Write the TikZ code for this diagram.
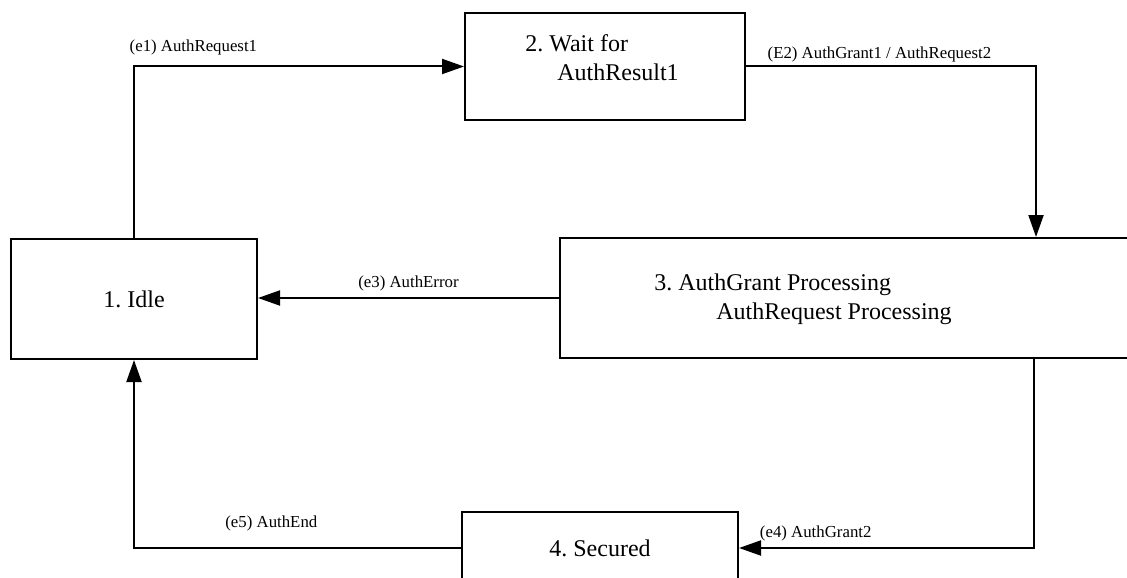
\documentclass[tikz,border=0pt]{standalone}
\usepackage{fontspec}
\setmainfont{Liberation Serif}
\usepackage{tikz}
\usetikzlibrary{calc,arrows.meta,positioning}
\frenchspacing
\tikzset{
	state/.style={
		draw, rectangle, line width=1pt,
		inner sep=0pt, text=black,
		font=\fontsize{12}{14.5}\selectfont
	},
	statetext/.style={
		align=left, inner sep=0pt,
		font=\fontsize{12}{14.5}\selectfont
	},
	evlabel/.style={font=\fontsize{8.4}{10}\selectfont, inner sep=0pt},
	trans/.style={-{Triangle[length=11pt,width=7.5pt]}, line width=1pt}
}
\begin{document}
\begin{tikzpicture}[x=0.5pt,y=-0.5pt]
				\path[use as bounding box, clip] (0,0) rectangle (1127,577);
				\node[state, minimum width=123pt, minimum height=60pt] (idle) at (134,299) {1. Idle};
				\node[state, minimum width=140pt, minimum height=53.5pt] (wait) at (605,66.5) {};
				\node[statetext] at (602,58) {2. Wait for\\\hspace*{16pt}AuthResult1};
				\node[state, minimum width=350pt, minimum height=60pt] (proc) at (910,298) {};
				\node[statetext] at (803,299) {3. AuthGrant Processing\\\hspace*{31pt}AuthRequest Processing};
				\node[state, minimum width=138pt, minimum height=36pt] (sec) at (600,548) {4. Secured};
				\draw[trans] (idle.north) |- (wait.west) node[evlabel, pos=0.59, above=5pt] {(e1) AuthRequest1};
				\draw[trans] (wait.east) -| ($(proc.north west)+(477,0)$) node[evlabel, pos=0.23, above=1.5pt] {(E2) AuthGrant1 / AuthRequest2};
				\draw[trans] (proc.west) -- (proc.west -| idle.east) node[evlabel, midway, above=3pt] {(e3) AuthError};
				\draw[trans] ($(proc.south west)+(475,0)$) |- (sec.east) node[evlabel, pos=0.87, above=3pt] {(e4) AuthGrant2};
				\draw[trans] (sec.west) -| (idle.south) node[evlabel, pos=0.29, above=8pt] {(e5) AuthEnd};
			\end{tikzpicture}
\end{document}
